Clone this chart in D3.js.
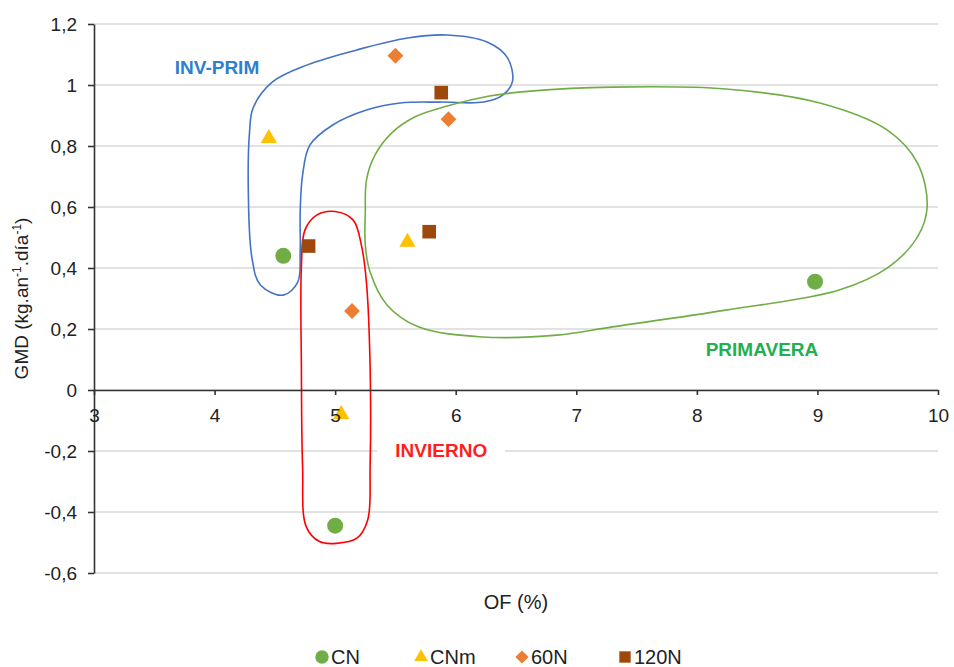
<!DOCTYPE html>
<html>
  <head>
    <meta charset="utf-8">
    <title>GMD vs OF</title>
    <script src="https://unpkg.com/d3@7/dist/d3.min.js"></script>
    <style>
      body { margin: 0; background: #fff; }
      svg text { font-family: "Liberation Sans", Arial, sans-serif; }
      .grid line { stroke: #d9d9d9; stroke-width: 1.3; }
      .axis path, .axis line { stroke: #333; stroke-width: 1.6; }
      .axis text { fill: #222; font-size: 19px; }
    </style>
  </head>
  <body>
    <div id="chart"></div>
    <script>
    // series: [OF (%), GMD]
    var seriesNames = ["CN", "CNm", "60N", "120N"];
    var cnData   = [[4.57, 0.44], [5.00, -0.445], [8.98, 0.355]];
    var cnmData  = [[4.45, 0.825], [5.60, 0.485], [5.05, -0.08]];
    var n60Data  = [[5.50, 1.096], [5.94, 0.888], [5.14, 0.259]];
    var n120Data = [[5.88, 0.975], [4.78, 0.472], [5.78, 0.519]];

    var xTicks = [3, 4, 5, 6, 7, 8, 9, 10];
    var yTicks = [-0.6, -0.4, -0.2, 0, 0.2, 0.4, 0.6, 0.8, 1, 1.2];

    // hand drawn groupings, in data units
    var invPrimLoop = [[4.32, 0.925], [4.48, 1.01], [4.77, 1.066], [5.18, 1.115], [5.60, 1.154],
      [5.93, 1.164], [6.26, 1.141], [6.43, 1.089], [6.47, 1.01], [6.39, 0.967], [6.23, 0.944],
      [5.87, 0.944], [5.54, 0.941], [5.26, 0.918], [4.98, 0.869], [4.79, 0.803], [4.73, 0.705],
      [4.71, 0.584], [4.71, 0.452], [4.69, 0.354], [4.57, 0.311], [4.38, 0.344], [4.31, 0.433],
      [4.28, 0.649], [4.29, 0.846]];
    var primaveraLoop = [[5.25, 0.584], [5.26, 0.689], [5.33, 0.77], [5.47, 0.843], [5.66, 0.895],
      [5.93, 0.931], [6.28, 0.964], [6.62, 0.98], [7.30, 0.993], [8.24, 0.987], [9.02, 0.941],
      [9.58, 0.852], [9.83, 0.744], [9.91, 0.6], [9.83, 0.502], [9.59, 0.403], [9.18, 0.328],
      [8.24, 0.262], [7.30, 0.207], [6.84, 0.18], [6.22, 0.174], [5.69, 0.207], [5.43, 0.279],
      [5.29, 0.387], [5.25, 0.475]];
    var inviernoLoop = [[5.00, 0.585], [4.85, 0.574], [4.75, 0.525], [4.72, 0.404], [4.72, 0.076],
      [4.73, -0.251], [4.76, -0.448], [4.87, -0.497], [5.01, -0.503], [5.18, -0.486], [5.27, -0.426],
      [5.29, -0.251], [5.29, 0.076], [5.26, 0.351], [5.22, 0.47], [5.15, 0.557]];

    var W = 954, H = 667;
    var margin = {top: 24, right: 16, bottom: 94, left: 94};
    var w = W - margin.left - margin.right, h = H - margin.top - margin.bottom;

    var svg = d3.select("#chart").append("svg")
      .attr("width", W)
      .attr("height", H);
    var g = svg.append("g")
      .attr("transform", "translate(" + margin.left + "," + margin.top + ")");

    var x = d3.scaleLinear().domain([3, 10]).range([0, w]);
    var y = d3.scaleLinear().domain([-0.6, 1.2]).range([h, 0]);

    var fmt = function(d) { return String(+d.toFixed(1)).replace(".", ","); };

    g.append("g")
      .attr("class", "grid")
      .selectAll("line")
      .data(yTicks)
      .enter().append("line")
      .attr("x1", 0)
      .attr("x2", w)
      .attr("y1", d => y(d))
      .attr("y2", d => y(d));

    var loop = d3.line()
      .x(d => x(d[0]))
      .y(d => y(d[1]))
      .curve(d3.curveCatmullRomClosed.alpha(0.5));

    var loops = [
      {pts: invPrimLoop, color: "#4472c4"},
      {pts: primaveraLoop, color: "#70ad47"},
      {pts: inviernoLoop, color: "#ff0000"}
    ];
    g.selectAll(".loop")
      .data(loops)
      .enter().append("path")
      .attr("class", "loop")
      .attr("d", d => loop(d.pts))
      .attr("fill", "none")
      .attr("stroke", d => d.color)
      .attr("stroke-width", 1.6);

    // group labels
    var labels = [
      {text: "INV-PRIM", at: [4.02, 1.06], color: "#2f7fd0", bg: false},
      {text: "PRIMAVERA", at: [8.54, 0.134], color: "#22b04f", bg: false},
      {text: "INVIERNO", at: [5.88, -0.198], color: "#ff1f1f", bg: true}
    ];
    var lab = g.selectAll(".lab")
      .data(labels)
      .enter().append("g")
      .attr("class", "lab")
      .attr("transform", d => "translate(" + x(d.at[0]) + "," + y(d.at[1]) + ")");
    lab.filter(d => d.bg).append("rect")
      .attr("x", -64)
      .attr("y", -12)
      .attr("width", 128)
      .attr("height", 24)
      .attr("fill", "#fff");
    lab.append("text")
      .attr("text-anchor", "middle")
      .attr("dy", "0.36em")
      .attr("font-size", "19px")
      .attr("font-weight", "bold")
      .attr("fill", d => d.color)
      .text(d => d.text);

    var symbols = [
      {name: "CN", data: cnData, type: d3.symbolCircle, size: 200, rot: 0, color: "#70ad47"},
      {name: "CNm", data: cnmData, type: d3.symbolTriangle, size: 115, rot: 0, color: "#ffc000"},
      {name: "60N", data: n60Data, type: d3.symbolSquare, size: 125, rot: 45, color: "#ed7d31"},
      {name: "120N", data: n120Data, type: d3.symbolSquare, size: 185, rot: 0, color: "#9e480e"}
    ];

    symbols.forEach(function(s) {
      g.selectAll(null)
        .data(s.data)
        .enter().append("path")
        .attr("d", d3.symbol().type(s.type).size(s.size))
        .attr("transform", d => "translate(" + x(d[0]) + "," + y(d[1]) + ") rotate(" + s.rot + ")")
        .attr("fill", s.color);
    });

    var yAxis = d3.axisLeft(y)
      .tickValues(yTicks)
      .tickFormat(fmt)
      .tickSize(6)
      .tickPadding(11)
      .tickSizeOuter(0);
    g.append("g")
      .attr("class", "axis")
      .call(yAxis);

    var xAxis = d3.axisBottom(x)
      .tickValues(xTicks)
      .tickFormat(d => d)
      .tickSize(5)
      .tickPadding(14)
      .tickSizeOuter(0);
    g.append("g")
      .attr("class", "axis")
      .attr("transform", "translate(0," + y(0) + ")")
      .call(xAxis);

    // axis titles
    var yt = svg.append("text")
      .attr("transform", "translate(28," + (margin.top + y(0.3)) + ") rotate(-90)")
      .attr("text-anchor", "middle")
      .attr("font-size", "19px")
      .attr("fill", "#222");
    yt.append("tspan").text("GMD (kg.an");
    yt.append("tspan").attr("font-size", "12px").attr("dy", "-7").text("-1");
    yt.append("tspan").attr("dy", "7").text(".día");
    yt.append("tspan").attr("font-size", "12px").attr("dy", "-7").text("-1");
    yt.append("tspan").attr("dy", "7").text(")");

    svg.append("text")
      .attr("x", margin.left + x(6.5))
      .attr("y", 609)
      .attr("text-anchor", "middle")
      .attr("font-size", "20px")
      .attr("fill", "#222")
      .text("OF (%)");

    // legend
    var legendX = [322, 421, 522, 625];
    var leg = svg.append("g").selectAll("g")
      .data(symbols)
      .enter().append("g")
      .attr("transform", (d, i) => "translate(" + legendX[i] + ",657)");
    leg.append("path")
      .attr("d", d => d3.symbol().type(d.type).size(d.size * 0.7)())
      .attr("transform", d => "rotate(" + d.rot + ")")
      .attr("fill", d => d.color);
    leg.append("text")
      .attr("x", 9)
      .attr("dy", "0.36em")
      .attr("font-size", "20px")
      .attr("fill", "#222")
      .text(d => d.name);
    </script>
  </body>
</html>
